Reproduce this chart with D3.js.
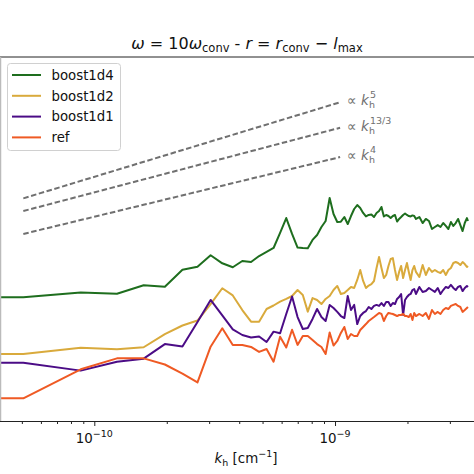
<!DOCTYPE html>
<html>
<head>
<meta charset="utf-8">
<script src="https://cdn.jsdelivr.net/npm/d3@7/dist/d3.min.js"></script>
<style>
  html, body { margin: 0; padding: 0; background: #fff; }
  svg { display: block; }
  text { font-family: "DejaVu Sans", sans-serif; white-space: pre; }
</style>
</head>
<body>
<div id="chart"></div>
<script>
// ---- data ----------------------------------------------------------------
// spherical degree l of each sample (first entry: leading point left of the view)
const ell = [0.5,
  1,2,3,4,5,6,7,8,9,10,11,12,13,14,15,16,17,18,19,20,
  21,22,23,24,25,26,27,28,29,30,31,32,33,34,35,36,37,38,39,40,
  41,42,43,44,45,46,47,48,49,50,51,52,53,54,55,56,57,58,59,60,
  62,64,66,68,70,72,74,76,78,80,82,84,86,88,90,92,94,96,98,99];
const rConv = 2.789e10; // cm, k_h = sqrt(l(l+1)) / r
// log10 of the spectrum (arbitrary units)
const boost1d4 = [8.47,
  8.47,8.80,8.71,9.30,9.20,10.36,10.57,11.35,10.80,10.53,
  10.96,10.89,11.30,11.58,11.85,12.88,13.90,12.81,11.88,11.85,
  11.83,12.40,12.74,13.29,13.70,15.27,14.18,13.63,13.65,13.97,
  13.49,14.04,14.52,14.79,14.59,14.25,14.01,14.11,14.14,13.97,
  14.25,14.38,14.66,14.01,14.11,14.04,13.90,14.04,14.11,13.66,
  13.84,13.97,14.11,14.21,14.11,14.04,14.01,14.08,14.04,13.84,
  13.97,13.56,13.84,13.70,13.15,13.29,13.42,13.29,13.56,13.36,
  13.15,13.63,13.36,13.56,13.84,13.42,13.01,13.56,13.90,13.70];
const boost1d2 = [4.59,
  4.59,5.02,4.92,5.05,5.95,6.54,6.88,8.01,9.09,8.60,
  7.60,6.80,6.80,7.67,7.91,8.18,8.36,8.56,8.97,8.63,
  7.49,8.42,8.29,8.01,8.36,8.56,8.97,9.25,8.70,8.77,
  8.97,9.18,9.11,9.66,10.34,9.59,9.11,9.28,9.38,9.59,
  10.48,11.23,10.48,9.79,10.00,10.62,11.10,11.16,10.34,9.66,
  10.21,10.62,9.79,10.34,10.82,10.21,9.66,10.34,10.62,10.21,
  9.86,10.68,10.00,10.48,10.21,10.34,10.21,10.14,10.34,10.00,
  10.34,10.48,10.82,10.89,10.82,10.68,10.89,10.75,10.55,10.62];
const boost1d1 = [3.99,
  3.99,3.45,4.06,4.27,5.27,5.10,6.78,8.29,7.23,6.27,
  5.89,5.72,5.79,5.41,6.12,6.01,7.33,8.53,7.12,6.30,
  6.37,6.99,7.67,7.12,6.85,7.95,7.74,7.47,7.19,7.05,
  8.56,7.60,7.95,6.64,7.19,7.40,7.53,7.81,7.67,7.88,
  7.95,7.88,8.08,7.88,8.15,8.15,7.88,8.08,8.01,8.36,
  8.49,8.70,7.26,8.29,8.49,8.63,8.70,8.97,9.04,8.70,
  9.18,8.84,8.90,9.11,8.97,8.84,9.11,8.70,8.97,9.18,
  9.11,9.32,9.11,8.97,9.18,9.25,8.90,9.11,9.25,9.18];
const ref = [1.55,
  1.55,3.54,4.29,4.29,3.87,3.25,2.64,5.09,6.35,5.21,
  5.21,5.07,4.73,4.93,4.06,5.77,5.03,6.25,5.21,5.82,
  5.82,5.55,5.27,5.07,4.59,6.06,5.17,5.48,6.03,6.44,
  5.62,5.96,5.82,5.82,6.23,6.44,6.64,6.85,6.99,7.12,
  7.26,7.40,7.33,6.85,7.19,7.40,7.36,7.33,7.26,7.19,
  7.26,7.26,7.33,7.19,7.19,7.12,7.33,6.92,7.40,7.19,
  7.33,7.19,7.40,6.99,7.60,7.33,7.47,7.33,7.60,7.74,
  7.67,7.88,7.95,8.01,7.88,7.81,7.47,7.60,7.74,7.81];
const seriesNames = ["boost1d4", "boost1d2", "boost1d1", "ref"];
const seriesColors = ["#1e6e1e", "#d9aa3c", "#4b0c86", "#ef5a24"];
// power-law guide lines
const guideExponents = [5, 13/3, 4];
const guideLabels = ["5", "13/3", "4"];
const guideStart = [15.25, 14.38, 12.81]; // log10 value at first k_h
const guideEndK = 1.05e-9;
const xDomain = [4.057e-11, 4.576e-9];
const yDomain = [0, 24.93];
const majorTicks = [1e-10, 1e-9];
const majorExp = ["−10", "−9"];
const minorTicks = [5e-11,6e-11,7e-11,8e-11,9e-11,2e-10,3e-10,4e-10,5e-10,6e-10,7e-10,8e-10,9e-10,2e-9,3e-9,4e-9];

// ---- chart ---------------------------------------------------------------
const W = 474, H = 474;
const m = {left: 0, top: 57, right: 494, bottom: 421};
const svg = d3.select("#chart").append("svg").attr("width", W).attr("height", H);

const kh = ell.map(l => Math.sqrt(l * (l + 1)) / rConv);
const x = d3.scaleLog().domain(xDomain).range([m.left, m.right]);
const y = d3.scaleLinear().domain(yDomain).range([m.bottom, m.top]);

svg.append("defs").append("clipPath").attr("id", "clip")
  .append("rect").attr("x", m.left).attr("y", m.top)
  .attr("width", m.right - m.left).attr("height", m.bottom - m.top);

const plot = svg.append("g").attr("clip-path", "url(#clip)");

// guide lines
const kStart = kh[1];
guideExponents.forEach((p, i) => {
  const pts = [kStart, guideEndK].map(k => [k, guideStart[i] + p * Math.log10(k / kStart)]);
  plot.append("path")
    .attr("d", d3.line().x(d => x(d[0])).y(d => y(d[1]))(pts))
    .attr("fill", "none").attr("stroke", "#707070").attr("stroke-width", 2)
    .attr("stroke-dasharray", "5.5,2.6");
  const t = svg.append("text")
    .attr("x", x(guideEndK) + 7).attr("y", y(pts[1][1]) + 3)
    .attr("font-size", 13.5).attr("fill", "#707070");
  t.append("tspan").text("∝ ");
  t.append("tspan").attr("font-style", "italic").text("k");
  t.append("tspan").attr("font-size", 9.5).attr("dy", 3).text("h");
  t.append("tspan").attr("font-size", 9.5).attr("dx", -5).attr("dy", -10).text(guideLabels[i]);
});

// series
const allSeries = [boost1d4, boost1d2, boost1d1, ref];
const line = d3.line().x((d, i) => x(kh[i])).y(d => y(d));
allSeries.forEach((s, i) => {
  plot.append("path").datum(s).attr("d", line)
    .attr("fill", "none").attr("stroke", seriesColors[i])
    .attr("stroke-width", 2).attr("stroke-linejoin", "round");
});

// spines
svg.append("line").attr("x1", m.left).attr("x2", m.right).attr("y1", m.top).attr("y2", m.top)
  .attr("stroke", "#222").attr("stroke-width", 1);
svg.append("line").attr("x1", m.left + 0.5).attr("x2", m.left + 0.5).attr("y1", m.top).attr("y2", m.bottom)
  .attr("stroke", "#bbb").attr("stroke-width", 1.5);

// x axis
const gMinor = svg.append("g").attr("transform", `translate(0,${m.bottom})`)
  .call(d3.axisBottom(x).tickValues(minorTicks).tickSize(3).tickFormat(""));
const gMajor = svg.append("g").attr("transform", `translate(0,${m.bottom})`)
  .call(d3.axisBottom(x).tickValues(majorTicks).tickSize(5).tickFormat(""));
gMinor.select(".domain").remove();
gMajor.select(".domain").attr("stroke", "#222").attr("d", `M${m.left},0.5H${m.right}`);
[gMinor, gMajor].forEach(g => g.selectAll(".tick line").attr("stroke", "#222").attr("stroke-width", 1));

majorTicks.forEach((v, i) => {
  const t = svg.append("text").attr("x", x(v)).attr("y", 442.5)
    .attr("text-anchor", "middle").attr("font-size", 13.4).attr("fill", "#111");
  t.append("tspan").text("10");
  t.append("tspan").attr("font-size", 9.5).attr("dy", -6).text(majorExp[i]);
});

// x label
const xl = svg.append("text").attr("x", 246).attr("y", 463)
  .attr("text-anchor", "middle").attr("font-size", 13.4).attr("fill", "#111");
xl.append("tspan").attr("font-style", "italic").text("k");
xl.append("tspan").attr("font-size", 9.5).attr("dy", 3).text("h");
xl.append("tspan").attr("dy", -3).text(" [cm");
xl.append("tspan").attr("font-size", 9.5).attr("dy", -6).text("−1");
xl.append("tspan").attr("dy", 6).text("]");

// title
const tt = svg.append("text").attr("x", 247).attr("y", 49)
  .attr("text-anchor", "middle").attr("font-size", 16).attr("fill", "#111");
tt.append("tspan").attr("font-style", "italic").text("ω");
tt.append("tspan").text(" = 10");
tt.append("tspan").attr("font-style", "italic").text("ω");
tt.append("tspan").attr("font-size", 11.5).attr("dy", 3).text("conv");
tt.append("tspan").attr("dy", -3).text(" - ");
tt.append("tspan").attr("font-style", "italic").text("r");
tt.append("tspan").text(" = ");
tt.append("tspan").attr("font-style", "italic").text("r");
tt.append("tspan").attr("font-size", 11.5).attr("dy", 3).text("conv");
tt.append("tspan").attr("dy", -3).text(" − ");
tt.append("tspan").attr("font-style", "italic").text("l");
tt.append("tspan").attr("font-size", 11.5).attr("dy", 3).text("max");

// legend
const lg = svg.append("g");
lg.append("rect").attr("x", 7.5).attr("y", 63.5).attr("width", 113).attr("height", 87)
  .attr("rx", 3).attr("fill", "#fff").attr("fill-opacity", 0.8).attr("stroke", "#d0d0d0");
seriesNames.forEach((n, i) => {
  const yy = 75 + i * 20.8;
  lg.append("line").attr("x1", 12).attr("x2", 41).attr("y1", yy).attr("y2", yy)
    .attr("stroke", seriesColors[i]).attr("stroke-width", 2);
  lg.append("text").attr("x", 51.5).attr("y", yy + 4.8).attr("font-size", 13.3)
    .attr("fill", "#111").text(n);
});
</script>
</body>
</html>
